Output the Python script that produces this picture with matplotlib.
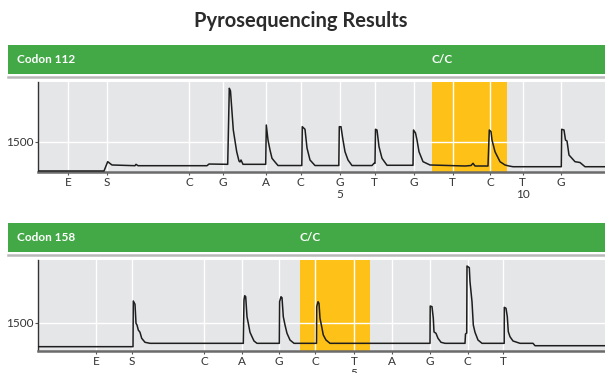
import matplotlib
matplotlib.use("Agg")
import matplotlib.pyplot as plt
from matplotlib.patches import Rectangle
from matplotlib.lines import Line2D

plt.rcParams['font.family'] = ['Lato', 'DejaVu Sans']

title = "Pyrosequencing Results"

# ---- Panel 1: Codon 112 ----
codon1 = "Codon 112"
geno1 = "C/C"
disp1_labels = ['E', 'S', 'C', 'G', 'A', 'C', 'G\n5', 'T', 'G', 'T', 'C', 'T\n10', 'G']
disp1_pos = [30, 69, 151, 185, 228, 262.5, 302, 336.5, 375.5, 414.5, 452, 484.7, 522.5]
hl1 = (393.7, 468.7)
t1_x = [0, 66, 69.7, 74, 97, 98, 100, 169, 171, 189.7,
        191.3, 192.5, 195.3, 198.7, 201, 202, 203, 205, 227.7, 228.3,
        230, 232, 234, 237, 240, 263.8, 264.3, 267, 269, 272,
        277, 300.8, 301.3, 303, 304.7, 307, 310, 314, 334, 336,
        337, 337.5, 339, 341, 344, 349, 375, 375.5, 377.5, 379,
        381, 385, 392, 427, 433, 435, 437, 450, 451.3, 453,
        454, 457, 462, 467, 471, 475, 523.3, 523.7, 526, 527.5,
        529, 531, 537, 542, 547, 567]
t1_y = [1017, 1017, 1172, 1117, 1105, 1128, 1105, 1105, 1133, 1128,
        2395, 2350, 1700, 1338, 1183, 1167, 1200, 1128, 1128, 1783,
        1533, 1367, 1228, 1167, 1108, 1108, 1755, 1712, 1400, 1200,
        1108, 1108, 1755, 1755, 1562, 1338, 1200, 1108, 1108, 1145,
        1145, 1712, 1700, 1422, 1228, 1112, 1112, 1700, 1650, 1533,
        1338, 1172, 1117, 1100, 1108, 1145, 1100, 1100, 1700, 1672,
        1533, 1338, 1172, 1117, 1100, 1088, 1088, 1712, 1700, 1533,
        1517, 1283, 1172, 1158, 1088, 1088]
ylim1 = (1000, 2500)

# ---- Panel 2: Codon 158 ----
codon2 = "Codon 158"
geno2 = "C/C"
disp2_labels = ['E', 'S', 'C', 'A', 'G', 'C', 'T\n5', 'A', 'G', 'C', 'T']
disp2_pos = [58, 94, 166, 204, 241, 277, 316, 354, 391.5, 429.5, 465]
hl2 = (262, 332)
t2_x = [0, 95, 95.3, 97, 98, 99, 100.3, 102, 103.7, 107, 112,
        205.3, 206, 206.7, 207.7, 209, 210.3, 212, 214, 216, 219,
        241.3, 241.6, 243, 244, 245.3, 247, 249, 252, 256,
        278.5, 278.7, 280, 281, 282, 283.7, 285.3, 288, 292,
        392, 392.2, 394, 395.3, 396, 398, 400, 403, 407,
        427, 427.5, 428.7, 429, 431.3, 432, 434, 435.3, 437, 440, 444,
        466.2, 466.3, 468, 469.3, 470.3, 472, 475, 482, 495, 497, 567]
t2_y = [1076, 1076, 1879, 1821, 1487, 1457, 1369, 1329, 1223, 1153, 1135,
        1135, 1897, 1972, 1954, 1603, 1487, 1329, 1251, 1176, 1135,
        1135, 1867, 1954, 1937, 1603, 1457, 1311, 1193, 1135,
        1135, 1779, 1867, 1838, 1575, 1427, 1281, 1193, 1135,
        1135, 1791, 1779, 1575, 1335, 1311, 1223, 1153, 1135,
        1135, 1299, 1316, 2494, 2465, 2218, 1867, 1457, 1329, 1193, 1135,
        1135, 1768, 1751, 1603, 1339, 1251, 1176, 1135, 1135, 1093, 1093]
ylim2 = (1000, 2600)

yticks = [1500]
xlim = (0, 567)

W, H = 605, 373
fig = plt.figure(figsize=(W / 100, H / 100), dpi=100)

GREEN = '#43a846'
YELLOW = '#fdc117'
BG = '#e5e6e8'

fig.text(0.497, 1 - 21 / H, title, ha='center', va='center',
         fontsize=14.5, fontweight='bold', color='#2b2b2b')


def panel(top_banner, bot_banner, ax_top, ax_bot, codon, geno, hl, pos, labels,
          tx, ty, ylim):
    # banner
    bax = fig.add_axes([8 / W, 1 - bot_banner / H, (W - 8) / W, (bot_banner - top_banner) / H])
    bax.set_xlim(0, W - 8)
    bax.set_ylim(0, 1)
    bax.axis('off')
    bax.add_patch(Rectangle((0, 0), W - 8, 1, color=GREEN, lw=0))
    bax.text(9, 0.5, codon, color='white', fontsize=8.5, fontweight='bold', va='center', ha='left')
    # separator line
    fig.add_artist(Line2D([8 / W, 1], [1 - (bot_banner + 2.5) / H] * 2, color='#b9b9b9', lw=1.8))

    ax = fig.add_axes([38 / W, 1 - ax_bot / H, (W - 38) / W, (ax_bot - ax_top) / H])
    ax.set_facecolor(BG)
    ax.set_xlim(*xlim)
    ax.set_ylim(*ylim)
    ax.axvspan(hl[0], hl[1], color=YELLOW, lw=0, zorder=0.5)
    ax.set_xticks(pos)
    ax.set_xticklabels(labels, fontsize=8.5, color='#333333', linespacing=1.1)
    ax.set_yticks(yticks)
    ax.set_yticklabels([str(v) for v in yticks], fontsize=8.5, color='#333333')
    ax.grid(True, color='white', lw=1)
    ax.set_axisbelow(True)
    ax.tick_params(axis='x', length=2, width=0.8, color='#555555', pad=1.5)
    ax.tick_params(axis='y', length=2, width=0.8, color='#555555', pad=1)
    for s in ['top', 'right']:
        ax.spines[s].set_visible(False)
    ax.spines['left'].set_color('#333333')
    ax.spines['left'].set_linewidth(1)
    ax.spines['bottom'].set_color('#6b6b6b')
    ax.spines['bottom'].set_linewidth(1.8)
    ax.plot(tx, ty, color='#1e1e1e', lw=1.1, zorder=3)
    # genotype label aligned with highlight start
    xfrac = (38 + (hl[0] - xlim[0]) / (xlim[1] - xlim[0]) * (W - 38) - 8) / (W - 8)
    bax.text(xfrac * (W - 8), 0.5, geno, color='white', fontsize=8.5, fontweight='bold',
             va='center', ha='left')
    return ax


panel(45, 74, 82, 172, codon1, geno1, hl1, disp1_pos, disp1_labels, t1_x, t1_y, ylim1)
panel(223, 252, 260, 351, codon2, geno2, hl2, disp2_pos, disp2_labels, t2_x, t2_y, ylim2)

fig.savefig('out.png', dpi=100)
